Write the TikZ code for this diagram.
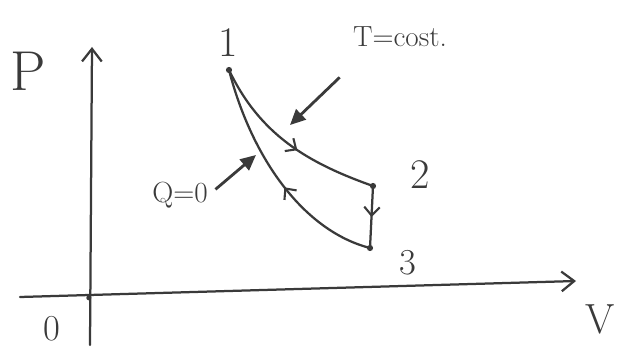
\documentclass[tikz,border=0pt]{standalone}
\usetikzlibrary{arrows.meta,decorations.markings}
\definecolor{ink}{HTML}{3A3A3A}
\tikzset{
	pen/.style={line width=1.6pt, draw=ink, line cap=round, line join=round},
	axisarrow/.style={pen, -{Straight Barb[length=9pt,width=14pt]}},
	pointer/.style={line width=2pt, draw=ink, -{Triangle[length=11pt,width=10pt]}},
	midarrow/.style={postaction={decorate}, decoration={markings,
		mark=at position #1 with {\arrow[ink,line width=1.5pt]{Straight Barb[length=6pt,width=11pt]}}}},
	lbl/.style={text=ink, font=\huge},
	biglbl/.style={text=ink, font=\fontsize{30}{30}\selectfont},
	midlbl/.style={text=ink, font=\fontsize{26}{26}\selectfont},
}
\begin{document}
\begin{tikzpicture}
	\useasboundingbox (0,0) rectangle (15.6,8.775);
	% axes
	\coordinate (vbot) at (2.25,0.15);
	\coordinate (vtop) at (2.3,7.6);
	\coordinate (hleft) at (0.5,1.35);
	\coordinate (hright) at (14.4,1.75);
	\coordinate (origin) at (2.22,1.33);
	\draw[axisarrow] (vbot) -- (vtop);
	\draw[axisarrow] (hleft) -- (hright);
	\fill[ink] (origin) circle (1.8pt);
	\node[lbl, font=\fontsize{40}{40}\selectfont] (plabel) at (0.7,7.0) {P};
	\node[biglbl] (vlabel) at (15.0,0.8) {V};
	\node[midlbl] (olabel) at (1.3,0.55) {0};
	% the cycle
	\coordinate (p1) at (5.725,7.025);
	\coordinate (p2) at (9.325,4.125);
	\coordinate (p3) at (9.25,2.575);
	\draw[pen, midarrow=0.56] (p1) .. controls (6.5,5.4) and (7.7,4.7) .. (p2);
	\draw[pen, midarrow=0.5] (p2) -- (p3);
	\draw[pen, midarrow=0.45] (p3) .. controls (7.6,3.0) and (6.3,4.8) .. (p1);
	\foreach \p in {p1,p2,p3}
		\fill[ink] (\p) circle (2.2pt);
	\node[biglbl] (n1) at (5.7,7.7) {1};
	\node[biglbl] (n2) at (10.5,4.4) {2};
	\node[midlbl] (n3) at (10.2,2.2) {3};
	% labels with pointers
	\node[lbl] (tcost) at (10.0,7.85) {T=cost.};
	\node[lbl] (qzero) at (4.5,3.9) {Q=0};
	\coordinate (tpoint) at (7.25,5.65);
	\coordinate (qpoint) at (6.4,4.9);
	\draw[pointer] ([xshift=-6pt,yshift=-18pt]tcost.south west) -- (tpoint);
	\draw[pointer] ([xshift=2pt,yshift=4pt]qzero.east) -- (qpoint);
\end{tikzpicture}
\end{document}
